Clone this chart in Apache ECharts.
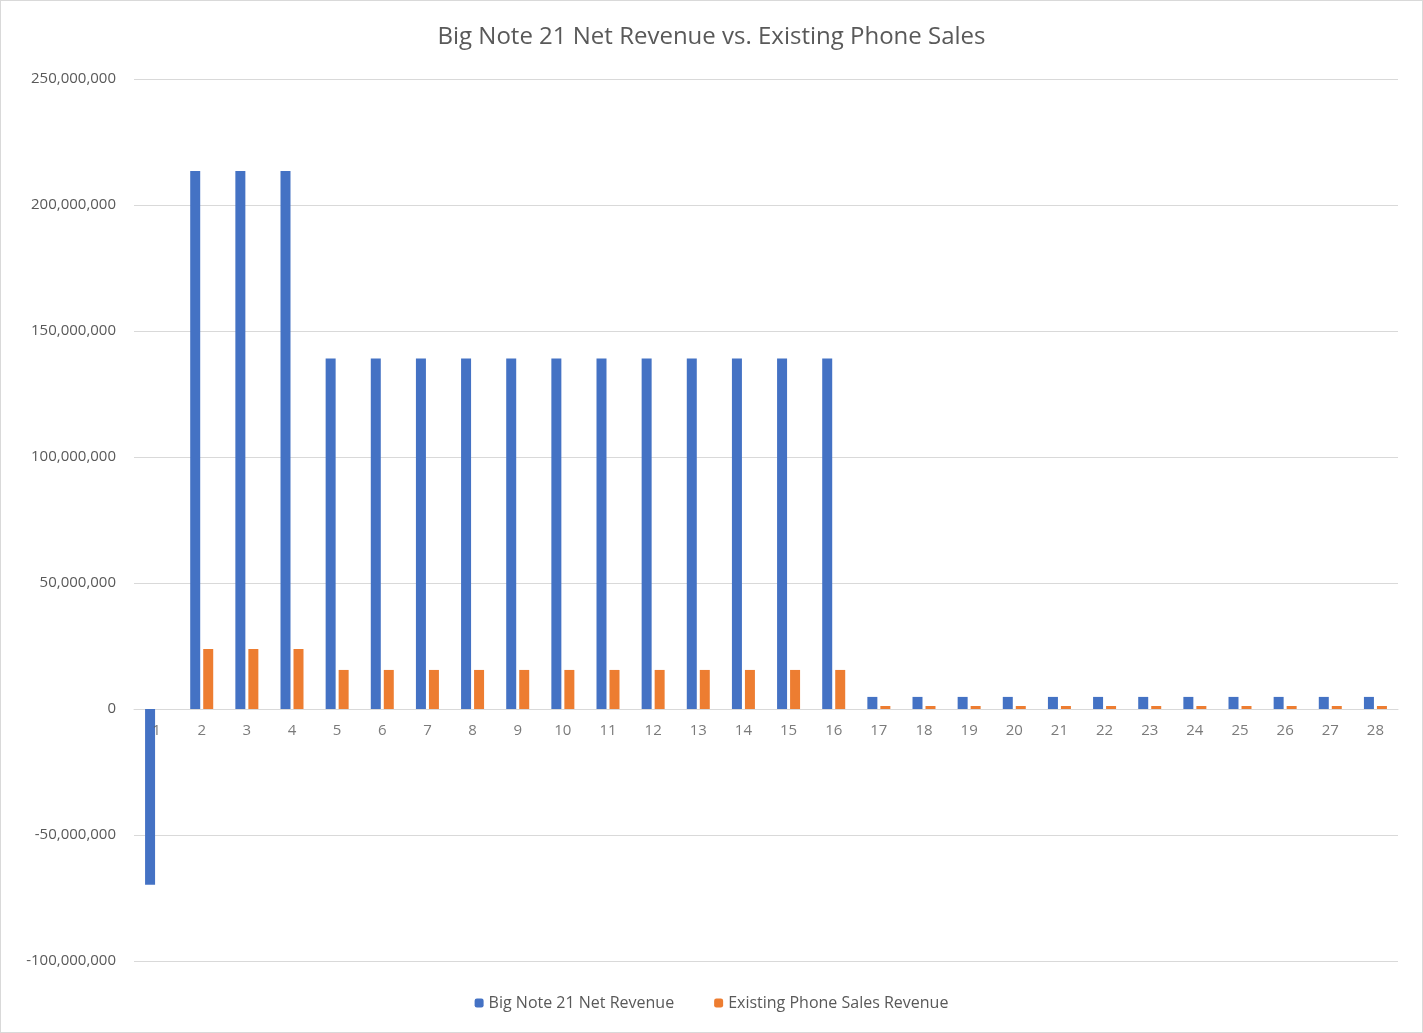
<!DOCTYPE html>
<html>
<head>
<meta charset="utf-8">
<script src="https://cdn.jsdelivr.net/npm/echarts@6/dist/echarts.min.js"></script>
<style>
html,body{margin:0;padding:0;background:#fff;}
#chart{width:1421px;height:1031px;border:1px solid #d9d9d9;}
</style>
</head>
<body>
<div id="chart"></div>
<script>
var categories = [];
for (var i = 1; i <= 28; i++) categories.push(String(i));
var bigNote = [-69700000, 213500000, 213500000, 213500000,
	139100000, 139100000, 139100000, 139100000, 139100000, 139100000,
	139100000, 139100000, 139100000, 139100000, 139100000, 139100000,
	4800000, 4800000, 4800000, 4800000, 4800000, 4800000,
	4800000, 4800000, 4800000, 4800000, 4800000, 4800000];
var existing = [0, 23800000, 23800000, 23800000,
	15500000, 15500000, 15500000, 15500000, 15500000, 15500000,
	15500000, 15500000, 15500000, 15500000, 15500000, 15500000,
	1200000, 1200000, 1200000, 1200000, 1200000, 1200000,
	1200000, 1200000, 1200000, 1200000, 1200000, 1200000];

var myChart = echarts.init(document.getElementById('chart'));
var option = {
	animation: false,
	title: {
		text: 'Big Note 21 Net Revenue vs. Existing Phone Sales',
		left: 'center',
		top: 19,
		textStyle: {fontFamily: 'Open Sans', fontSize: 24, fontWeight: 'normal', color: '#595959'}
	},
	legend: {
		bottom: 16,
		itemWidth: 9,
		itemHeight: 9,
		itemGap: 40,
		textStyle: {fontFamily: 'Open Sans', fontSize: 16, color: '#595959'},
		data: ['Big Note 21 Net Revenue', 'Existing Phone Sales Revenue']
	},
	grid: {left: 133, right: 24, top: 78, bottom: 71},
	xAxis: {
		type: 'category',
		data: categories,
		axisLine: {onZero: true, lineStyle: {color: '#d9d9d9'}},
		axisTick: {show: false},
		axisLabel: {show: false}
	},
	yAxis: {
		type: 'value',
		min: -100000000,
		max: 250000000,
		interval: 50000000,
		axisLine: {show: false},
		axisTick: {show: false},
		splitLine: {lineStyle: {color: '#d9d9d9'}},
		axisLabel: {
			fontFamily: 'Open Sans', fontSize: 15, color: '#595959', margin: 18,
			formatter: function(v){ return v.toLocaleString('en-US'); }
		}
	},
	series: [{
		name: 'Big Note 21 Net Revenue',
		type: 'bar',
		data: bigNote,
		barWidth: 10,
		barGap: '30%',
		itemStyle: {color: '#4472c4'}
	}, {
		name: 'Existing Phone Sales Revenue',
		type: 'bar',
		data: existing,
		barWidth: 10,
		itemStyle: {color: '#ed7d31'}
	}, {
		// category labels sitting on the zero line
		type: 'scatter',
		data: categories.map(function(c){ return [c, 0]; }),
		symbolSize: 0,
		silent: true,
		z: 10,
		label: {
			show: true,
			position: 'bottom',
			distance: 14,
			fontFamily: 'Open Sans', fontSize: 15, color: '#595959',
			formatter: function(p){ return p.value[0]; }
		}
	}]
};
myChart.setOption(option);
</script>
</body>
</html>
